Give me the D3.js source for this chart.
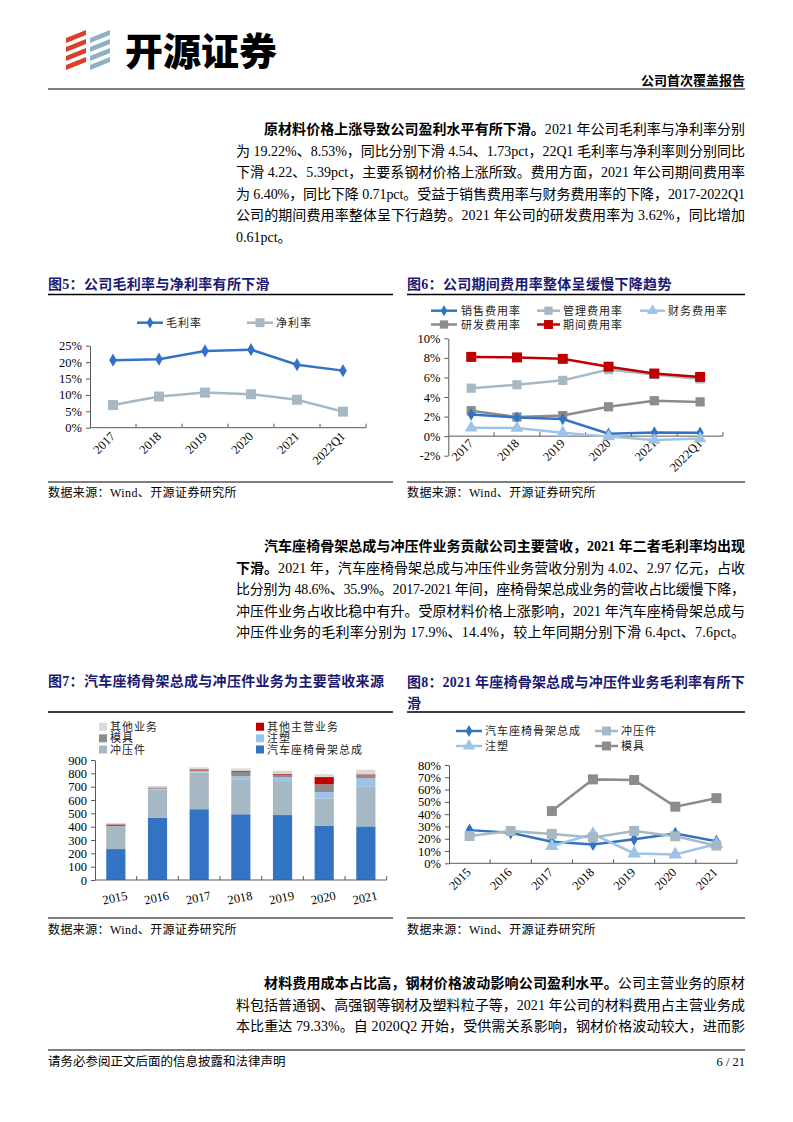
<!DOCTYPE html>
<html>
<head>
<meta charset="utf-8">
<script src="https://cdn.jsdelivr.net/npm/d3@7"></script>
<style>
  body { margin: 0; background: #fff; }
  #page { width: 793px; height: 1122px; }
  text { font-family: "Liberation Serif", "Noto Sans CJK SC", serif; }
</style>
</head>
<body>
<div id="page"></div>
<script>
// ---- data ----
var years5 = ["2017", "2018", "2019", "2020", "2021", "2022Q1"];
var grossMargin = [20.6, 20.9, 23.4, 23.8, 19.22, 17.4];
var netMargin = [6.9, 9.5, 10.7, 10.2, 8.53, 4.9];

var salesRate = [2.2, 1.9, 1.75, 0.25, 0.38, 0.34];
var adminRate = [4.9, 5.25, 5.7, 6.8, 6.3, 5.85];
var finRate = [0.86, 0.82, 0.35, -0.05, -0.4, -0.25];
var rdRate = [2.6, 1.95, 2.1, 3.0, 3.62, 3.5];
var periodRate = [8.1, 8.05, 7.9, 7.1, 6.4, 6.05];

var years7 = ["2015", "2016", "2017", "2018", "2019", "2020", "2021"];
var seatRev = [232, 468, 531, 493, 487, 408, 402];
var stampRev = [175, 211, 275, 262, 248, 204, 297];
var injectRev = [0, 5, 10, 22, 35, 48, 63];
var moldRev = [0, 5, 6, 35, 20, 58, 23];
var otherMainRev = [10, 4, 8, 7, 7, 54, 7];
var otherBizRev = [10, 12, 15, 18, 23, 22, 35];

var seatGM = [27.0, 24.8, 17.6, 15.3, 19.5, 24.3, 17.9];
var stampGM = [22.2, 26.3, 23.9, 21.0, 26.3, 22.0, 14.4];
var injectGM = [null, null, 14.1, 23.8, 8.0, 7.2, 15.7];
var moldGM = [null, null, 42.5, 68.3, 67.8, 46.1, 53.0];

var ticks5 = [0, 5, 10, 15, 20, 25];
var ticks6 = [-2, 0, 2, 4, 6, 8, 10];
var ticks7 = [0, 100, 200, 300, 400, 500, 600, 700, 800, 900];
var ticks8 = [0, 10, 20, 30, 40, 50, 60, 70, 80];

var BLUE = "#3373c4", GRAYBLUE = "#a6b8c4", LIGHTBLUE = "#9dc3e6",
    GRAY = "#8c8c8c", RED = "#c00000", LIGHTGRAY = "#d9d9d9",
    NAVY = "#1a1a70", AXIS = "#595959";

var svg = d3.select("#page").append("svg")
    .attr("width", 793)
    .attr("height", 1122);

// ---- header ----
var logo = svg.append("g");
[70, 61, 52, 43].forEach(function (yb) {
  logo.append("polygon")
    .attr("points", [[66, yb], [86, yb - 8], [86, yb - 13], [66, yb - 5]].join(" "))
    .attr("fill", "#d9402b");
});
[43, 52, 61, 70].forEach(function (yb) {
  logo.append("polygon")
    .attr("points", [[90, yb], [110, yb - 8], [110, yb - 13], [90, yb - 5]].join(" "))
    .attr("fill", "#8fb0c4");
});
svg.append("text").attr("x", 125).attr("y", 65)
  .attr("font-size", 38).attr("font-weight", 900)
  .style("font-family", "'Noto Sans CJK SC'")
  .text("开源证券");
svg.append("text").attr("x", 745).attr("y", 85)
  .attr("text-anchor", "end").attr("font-size", 13).attr("font-weight", "bold")
  .text("公司首次覆盖报告");
svg.append("line").attr("x1", 48).attr("x2", 745).attr("y1", 89).attr("y2", 89)
  .attr("stroke", "#7f7f7f").attr("stroke-width", 2);

// ---- body text ----
function textLine(x, y, segs, width) {
  var t = svg.append("text").attr("x", x).attr("y", y).attr("font-size", 14);
  segs.forEach(function (s) {
    t.append("tspan").attr("font-weight", s[1] ? "bold" : null).text(s[0]);
  });
  if (width) t.attr("textLength", width).attr("lengthAdjust", "spacing");
}

function paragraph(y0, lines) {
  lines.forEach(function (l, i) {
    var x = i === 0 ? 264 : 236;
    textLine(x, y0 + i * 21.6, l.segs, l.last ? null : 745 - x);
  });
}

paragraph(134, [
  {segs: [["原材料价格上涨导致公司盈利水平有所下滑。", 1], ["2021 年公司毛利率与净利率分别"]]},
  {segs: [["为 19.22%、8.53%，同比分别下滑 4.54、1.73pct，22Q1 毛利率与净利率则分别同比"]]},
  {segs: [["下滑 4.22、5.39pct，主要系钢材价格上涨所致。费用方面，2021 年公司期间费用率"]]},
  {segs: [["为 6.40%，同比下降 0.71pct。受益于销售费用率与财务费用率的下降，2017-2022Q1"]]},
  {segs: [["公司的期间费用率整体呈下行趋势。2021 年公司的研发费用率为 3.62%，同比增加"]]},
  {segs: [["0.61pct。"]], last: true}
]);

paragraph(551, [
  {segs: [["汽车座椅骨架总成与冲压件业务贡献公司主要营收，2021 年二者毛利率均出现", 1]]},
  {segs: [["下滑。", 1], ["2021 年，汽车座椅骨架总成与冲压件业务营收分别为 4.02、2.97 亿元，占收"]]},
  {segs: [["比分别为 48.6%、35.9%。2017-2021 年间，座椅骨架总成业务的营收占比缓慢下降，"]]},
  {segs: [["冲压件业务占收比稳中有升。受原材料价格上涨影响，2021 年汽车座椅骨架总成与"]]},
  {segs: [["冲压件业务的毛利率分别为 17.9%、14.4%，较上年同期分别下滑 6.4pct、7.6pct。"]]}
]);

paragraph(988, [
  {segs: [["材料费用成本占比高，钢材价格波动影响公司盈利水平。", 1], ["公司主营业务的原材"]]},
  {segs: [["料包括普通钢、高强钢等钢材及塑料粒子等，2021 年公司的材料费用占主营业务成"]]},
  {segs: [["本比重达 79.33%。自 2020Q2 开始，受供需关系影响，钢材价格波动较大，进而影"]]}
]);

// ---- footer ----
svg.append("line").attr("x1", 48).attr("x2", 745).attr("y1", 1050).attr("y2", 1050)
  .attr("stroke", "#000").attr("stroke-width", 1.2);
svg.append("text").attr("x", 48).attr("y", 1066).attr("font-size", 12.5)
  .text("请务必参阅正文后面的信息披露和法律声明");
svg.append("text").attr("x", 745).attr("y", 1066).attr("font-size", 12.5)
  .attr("text-anchor", "end").text("6 / 21");

// ---- chart frame helpers ----
function chartTitle(x, y, lines, width) {
  lines.forEach(function (s, i) {
    var t = svg.append("text").attr("x", x).attr("y", y + i * 21)
      .attr("font-size", 14).attr("font-weight", "bold").attr("fill", NAVY)
      .attr("letter-spacing", 0.3).text(s);
    if (width && i < lines.length - 1) t.attr("textLength", width).attr("lengthAdjust", "spacing");
  });
}
function rule(x1, x2, y, w) {
  svg.append("line").attr("x1", x1).attr("x2", x2).attr("y1", y).attr("y2", y)
    .attr("stroke", "#000").attr("stroke-width", w || 1.5);
}
function source(x, y) {
  svg.append("text").attr("x", x).attr("y", y).attr("font-size", 12)
    .attr("letter-spacing", 0.4).text("数据来源：Wind、开源证券研究所");
}

function yAxis(y, x0, ticks, fmt) {
  var g = svg.append("g").attr("transform", "translate(" + x0 + ",0)")
    .call(d3.axisLeft(y).tickValues(ticks).tickFormat(fmt).tickSize(4).tickSizeOuter(0).tickPadding(4));
  g.select(".domain").attr("stroke", AXIS);
  g.selectAll(".tick line").attr("stroke", AXIS);
  g.selectAll(".tick text").attr("font-size", 12.5).attr("fill", "#000")
    .style("font-family", "'Liberation Serif'");
}
function xAxisLine(x, yPos) {
  var r = x.range();
  var g = svg.append("g");
  g.append("line").attr("x1", r[0]).attr("x2", r[1]).attr("y1", yPos).attr("y2", yPos)
    .attr("stroke", AXIS);
  x.domain().forEach(function (d, i) {
    var bx = x(d) + x.step();
    g.append("line").attr("x1", bx).attr("x2", bx).attr("y1", yPos).attr("y2", yPos - 4)
      .attr("stroke", AXIS);
  });
}
function xLabels(x, yPos, angle, dx) {
  x.domain().forEach(function (d) {
    var cx = x(d) + x.bandwidth() / 2 + dx;
    svg.append("text")
      .attr("transform", "translate(" + cx + "," + yPos + ") rotate(" + angle + ")")
      .attr("text-anchor", angle < -30 ? "end" : "middle")
      .attr("font-size", 12.5).style("font-family", "'Liberation Serif'")
      .text(d);
  });
}

function drawSeries(x, y, cats, s) {
  var pts = cats.map(function (c, i) { return {c: c, v: s.values[i]}; });
  var line = d3.line()
    .defined(function (d) { return d.v != null; })
    .x(function (d) { return x(d.c) + x.bandwidth() / 2; })
    .y(function (d) { return y(d.v); });
  svg.append("path").datum(pts).attr("d", line)
    .attr("fill", "none").attr("stroke", s.color).attr("stroke-width", 2.5);
  svg.append("g").selectAll("path")
    .data(pts.filter(function (d) { return d.v != null; }))
    .enter().append("path")
      .attr("transform", function (d) {
        return "translate(" + (x(d.c) + x.bandwidth() / 2) + "," + y(d.v) + ")";
      })
      .attr("d", d3.symbol().type(s.symbol).size(s.size))
      .attr("fill", s.color);
}

function legendLine(x1, x2, yc, tx, s, label) {
  svg.append("line").attr("x1", x1).attr("x2", x2).attr("y1", yc).attr("y2", yc)
    .attr("stroke", s.color).attr("stroke-width", 2.5);
  svg.append("path").attr("transform", "translate(" + ((x1 + x2) / 2) + "," + yc + ")")
    .attr("d", d3.symbol().type(s.symbol).size(s.size * 0.8)).attr("fill", s.color);
  svg.append("text").attr("x", tx).attr("y", yc + 4).attr("font-size", 11)
    .attr("letter-spacing", 1).attr("fill", "#222").text(label);
}

var pct = function (d) { return d + "%"; };

/*** CHART 5 ***/
chartTitle(48, 289, ["图5：公司毛利率与净利率有所下滑"]);
rule(48, 393, 294.5);
var s5 = [
  {values: grossMargin, color: BLUE, symbol: d3.symbolDiamond, size: 50, name: "毛利率"},
  {values: netMargin, color: GRAYBLUE, symbol: d3.symbolSquare, size: 100, name: "净利率"}
];
legendLine(137, 163, 322.7, 166, s5[0], s5[0].name);
legendLine(247, 273, 322.7, 276, s5[1], s5[1].name);
var x5 = d3.scaleBand().domain(years5).range([90, 366]);
var y5 = d3.scaleLinear().domain([0, 25]).range([427.7, 345.7]);
yAxis(y5, 90, ticks5, pct);
xAxisLine(x5, y5(0));
xLabels(x5, 437, -45, 3);
s5.forEach(function (s) { drawSeries(x5, y5, years5, s); });
rule(48, 393, 482, 1);
source(48, 497);

/*** CHART 6 ***/
chartTitle(407, 289, ["图6：公司期间费用率整体呈缓慢下降趋势"]);
rule(407, 745, 294.5);
var s6 = [
  {values: salesRate, color: BLUE, symbol: d3.symbolDiamond, size: 45, name: "销售费用率"},
  {values: adminRate, color: GRAYBLUE, symbol: d3.symbolSquare, size: 85, name: "管理费用率"},
  {values: finRate, color: LIGHTBLUE, symbol: d3.symbolTriangle, size: 70, name: "财务费用率"},
  {values: rdRate, color: GRAY, symbol: d3.symbolSquare, size: 85, name: "研发费用率"},
  {values: periodRate, color: RED, symbol: d3.symbolSquare, size: 100, name: "期间费用率"}
];
legendLine(431, 457, 310.7, 461, s6[0], s6[0].name);
legendLine(537, 560, 310.7, 563, s6[1], s6[1].name);
legendLine(640, 665, 310.7, 668, s6[2], s6[2].name);
legendLine(431, 457, 324.5, 461, s6[3], s6[3].name);
legendLine(537, 560, 324.5, 563, s6[4], s6[4].name);
var x6 = d3.scaleBand().domain(years5).range([448.3, 723]);
var y6 = d3.scaleLinear().domain([-2, 10]).range([455.7, 338.3]);
yAxis(y6, 448.3, ticks6, pct);
xAxisLine(x6, y6(0));
xLabels(x6, 444, -45, 3);
[s6[1], s6[3], s6[0], s6[2], s6[4]].forEach(function (s) { drawSeries(x6, y6, years5, s); });
rule(407, 745, 482, 1);
source(407, 497);

/*** CHART 7 ***/
chartTitle(48, 686, ["图7：汽车座椅骨架总成与冲压件业务为主要营收来源"]);
rule(48, 393, 712);
var keys7 = ["座椅", "冲压", "注塑", "模具", "其他主营", "其他业务"];
var cols7 = [BLUE, GRAYBLUE, LIGHTBLUE, GRAY, RED, LIGHTGRAY];
var table7 = years7.map(function (yr, i) {
  return {year: yr, "座椅": seatRev[i], "冲压": stampRev[i], "注塑": injectRev[i],
          "模具": moldRev[i], "其他主营": otherMainRev[i], "其他业务": otherBizRev[i]};
});
var legend7 = [
  ["其他业务", LIGHTGRAY, 99, 726.7], ["其他主营业务", RED, 256, 726.7],
  ["模具", GRAY, 99, 738.3], ["注塑", LIGHTBLUE, 256, 738.3],
  ["冲压件", GRAYBLUE, 99, 749.5], ["汽车座椅骨架总成", BLUE, 256, 749.5]
];
legend7.forEach(function (l) {
  svg.append("rect").attr("x", l[2]).attr("y", l[3] - 4).attr("width", 8).attr("height", 8)
    .attr("fill", l[1]);
  svg.append("text").attr("x", l[2] + 11).attr("y", l[3] + 4).attr("font-size", 11)
    .attr("letter-spacing", 1).attr("fill", "#222").text(l[0]);
});
var x7 = d3.scaleBand().domain(years7).range([95, 386.7]).paddingInner(0.54).paddingOuter(0.27);
var y7 = d3.scaleLinear().domain([0, 900]).range([880, 760]);
var stack7 = d3.stack().keys(keys7)(table7);
svg.append("g").selectAll("g")
  .data(stack7)
  .enter().append("g")
    .attr("fill", function (d, i) { return cols7[i]; })
  .selectAll("rect")
  .data(function (d) { return d; })
  .enter().append("rect")
    .attr("x", function (d) { return x7(d.data.year); })
    .attr("y", function (d) { return y7(d[1]); })
    .attr("width", x7.bandwidth())
    .attr("height", function (d) { return y7(d[0]) - y7(d[1]); });
yAxis(y7, 95, ticks7, function (d) { return d; });
var x7b = d3.scaleBand().domain(years7).range([95, 386.7]);
xAxisLine(x7b, 880);
xLabels(x7b, 902, -12, 0);
rule(48, 393, 918, 1);
source(48, 934);

/*** CHART 8 ***/
chartTitle(407, 686.5, ["图8：2021 年座椅骨架总成与冲压件业务毛利率有所下", "滑"], 338);
rule(407, 745, 712);
var s8 = [
  {values: seatGM, color: BLUE, symbol: d3.symbolDiamond, size: 50, name: "汽车座椅骨架总成"},
  {values: stampGM, color: GRAYBLUE, symbol: d3.symbolSquare, size: 100, name: "冲压件"},
  {values: injectGM, color: LIGHTBLUE, symbol: d3.symbolTriangle, size: 80, name: "注塑"},
  {values: moldGM, color: GRAY, symbol: d3.symbolSquare, size: 100, name: "模具"}
];
legendLine(456, 482, 731, 485, s8[0], s8[0].name);
legendLine(595, 618, 731, 621, s8[1], s8[1].name);
legendLine(456, 482, 746, 485, s8[2], s8[2].name);
legendLine(595, 618, 746, 621, s8[3], s8[3].name);
var x8 = d3.scaleBand().domain(years7).range([449, 737]);
var y8 = d3.scaleLinear().domain([0, 80]).range([863.3, 765]);
yAxis(y8, 449, ticks8, pct);
xAxisLine(x8, 863.3);
xLabels(x8, 873, -45, 2);
[s8[3], s8[0], s8[2], s8[1]].forEach(function (s) { drawSeries(x8, y8, years7, s); });
rule(407, 745, 918, 1);
source(407, 934);
</script>
</body>
</html>
